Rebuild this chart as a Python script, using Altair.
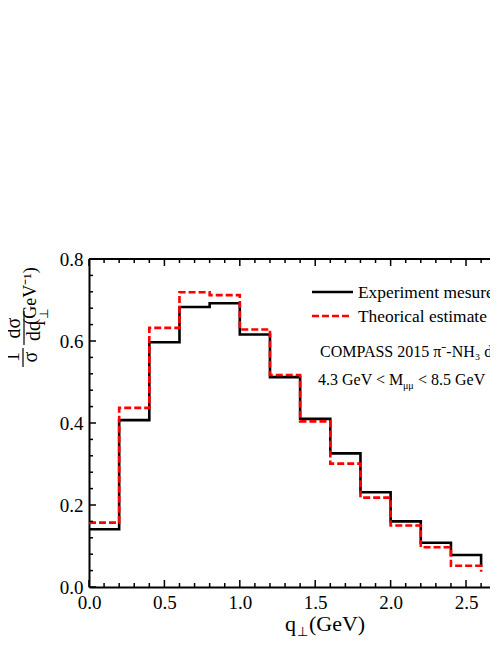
import altair as alt
import pandas as pd

# ---------------- data ----------------
bin_edges = [0.0, 0.2, 0.4, 0.6, 0.8, 1.0, 1.2, 1.4, 1.6, 1.8, 2.0, 2.2, 2.4, 2.6]
experiment = [0.141, 0.407, 0.597, 0.683, 0.692, 0.616, 0.512, 0.410, 0.326, 0.231, 0.160, 0.108, 0.078, 0.049]
theory = [0.157, 0.437, 0.632, 0.719, 0.712, 0.628, 0.517, 0.404, 0.301, 0.218, 0.150, 0.097, 0.052, 0.037]

x_major = [0.0, 0.5, 1.0, 1.5, 2.0, 2.5]
x_minor = [0.1, 0.2, 0.3, 0.4, 0.6, 0.7, 0.8, 0.9, 1.1, 1.2, 1.3, 1.4, 1.6, 1.7, 1.8, 1.9,
           2.1, 2.2, 2.3, 2.4, 2.6]
y_major = [0.0, 0.2, 0.4, 0.6, 0.8]
y_minor = [0.04, 0.08, 0.12, 0.16, 0.24, 0.28, 0.32, 0.36, 0.44, 0.48, 0.52, 0.56,
           0.64, 0.68, 0.72, 0.76]

legend_labels = ["Experiment mesurement", "Theorical estimate"]
note_line1 = "COMPASS 2015 π⁻-NH₃ data"
note_line2 = ["4.3 GeV < M", "μμ", "< 8.5 GeV"]
ylabel_parts = ["1", "σ", "dσ", "dq", "⊥", "(GeV⁻¹)"]
xlabel_parts = ["q", "⊥", "(GeV)"]

# ---------------- layout ----------------
W, H = 401, 328
FONT = "Liberation Serif"
xscale = alt.Scale(domain=[0, 2.659], nice=False, zero=False)
yscale = alt.Scale(domain=[0, 0.8], nice=False, zero=False)
xaxis = alt.Axis(values=x_major, format=".1f", ticks=False, grid=False, title=None,
                 domainColor="black", domainWidth=2, labelFont=FONT, labelFontSize=19,
                 labelColor="black", labelPadding=6, labelFlush=False, labelOverlap=False)
yaxis = alt.Axis(values=y_major, format=".1f", ticks=False, grid=False, title=None,
                 domainColor="black", domainWidth=2, labelFont=FONT, labelFontSize=19,
                 labelColor="black", labelPadding=6, labelFlush=False, labelOverlap=False)

def X(f="v"):
    return alt.X(f + ":Q", scale=xscale, axis=xaxis)

def Y(f="v"):
    return alt.Y(f + ":Q", scale=yscale, axis=yaxis)

df_exp = pd.DataFrame({"x": bin_edges, "y": experiment})
df_th = pd.DataFrame({"x": bin_edges, "y": theory})

line_exp = alt.Chart(df_exp).mark_line(interpolate="step-after", color="black",
                                        strokeWidth=2.6, strokeCap="butt").encode(x=X("x"), y=Y("y"))
line_th = alt.Chart(df_th).mark_line(interpolate="step-after", color="#ff0000",
                                      strokeWidth=2.6, strokeDash=[7, 3], strokeCap="butt").encode(x=X("x"), y=Y("y"))

def vticks(vals, y0, y1, sw=1.5):
    return alt.Chart(pd.DataFrame({"v": vals})).mark_rule(color="black", strokeWidth=sw).encode(
        x=X("v"), y=alt.value(y0), y2=alt.value(y1))

def hticks(vals, x0, x1, sw=1.5):
    return alt.Chart(pd.DataFrame({"v": vals})).mark_rule(color="black", strokeWidth=sw).encode(
        y=Y("v"), x=alt.value(x0), x2=alt.value(x1))

ticks = [
    vticks(x_major, H, H - 7), vticks(x_minor, H, H - 4),
    vticks(x_major, 0, 7), vticks(x_minor, 0, 4),
    hticks(y_major, 0, 7), hticks(y_minor, 0, 4),
]

one = pd.DataFrame({"a": [0]})
top_border = alt.Chart(one).mark_rule(color="black", strokeWidth=2).encode(
    x=alt.value(0), x2=alt.value(W), y=alt.value(0))

def txt(t, x, y, size, angle=0, align="left", baseline="alphabetic", clip=False):
    return alt.Chart(pd.DataFrame({"t": [t]})).mark_text(
        font=FONT, fontSize=size, angle=angle, align=align, baseline=baseline,
        color="black", clip=clip).encode(x=alt.value(x), y=alt.value(y), text="t:N")

def seg(x0, y0, x1, y1, color="black", sw=1.5, dash=None):
    kw = dict(color=color, strokeWidth=sw, strokeCap="butt")
    if dash:
        kw["strokeDash"] = dash
    return alt.Chart(one).mark_rule(**kw).encode(
        x=alt.value(x0), y=alt.value(y0), x2=alt.value(x1), y2=alt.value(y1))

# legend
legend = [
    seg(223, 33, 264, 33, "black", 2.6),
    seg(223, 57, 260, 57, "#ff0000", 2.6, [7, 3]),
    txt(legend_labels[0], 269, 39, 17.4, clip=True),
    txt(legend_labels[1], 269, 63, 17.4, clip=True),
    txt(note_line1, 231, 98, 16, clip=True),
    txt(note_line2[0], 229, 126, 16, clip=True),
    txt(note_line2[1], 314, 130, 10, clip=True),
    txt(note_line2[2], 329, 126, 16, clip=True),
]

# y axis title (rotated fraction)
ytitle = [
    txt(ylabel_parts[0], -70, 98, 20, angle=270, align="center"),
    seg(-66, 89, -66, 108, sw=1.2),
    txt(ylabel_parts[1], -52, 98, 20, angle=270, align="center"),
    txt(ylabel_parts[2], -69, 69, 20, angle=270, align="center"),
    seg(-65, 52, -65, 86, sw=1.2),
    txt(ylabel_parts[3], -49, 72, 20, angle=270, align="center"),
    txt(ylabel_parts[4], -41, 55, 12, angle=270, align="center"),
    txt(ylabel_parts[5], -53, 37, 18, angle=270, align="center"),
]

# x axis title
xtitle = [
    txt(xlabel_parts[0], 196, 372, 22),
    txt(xlabel_parts[1], 208, 377, 13),
    txt(xlabel_parts[2], 220, 372, 22),
]

chart = alt.layer(line_exp, line_th, *ticks, top_border, *legend, *ytitle, *xtitle).properties(
    width=W, height=H,
    autosize=alt.AutoSizeParams(type="none"),
    padding={"left": 81, "top": 251, "right": 0, "bottom": 50},
    background="white",
).configure_view(stroke=None)

chart.save("out.html", embed_options={"renderer": "svg", "actions": False})
